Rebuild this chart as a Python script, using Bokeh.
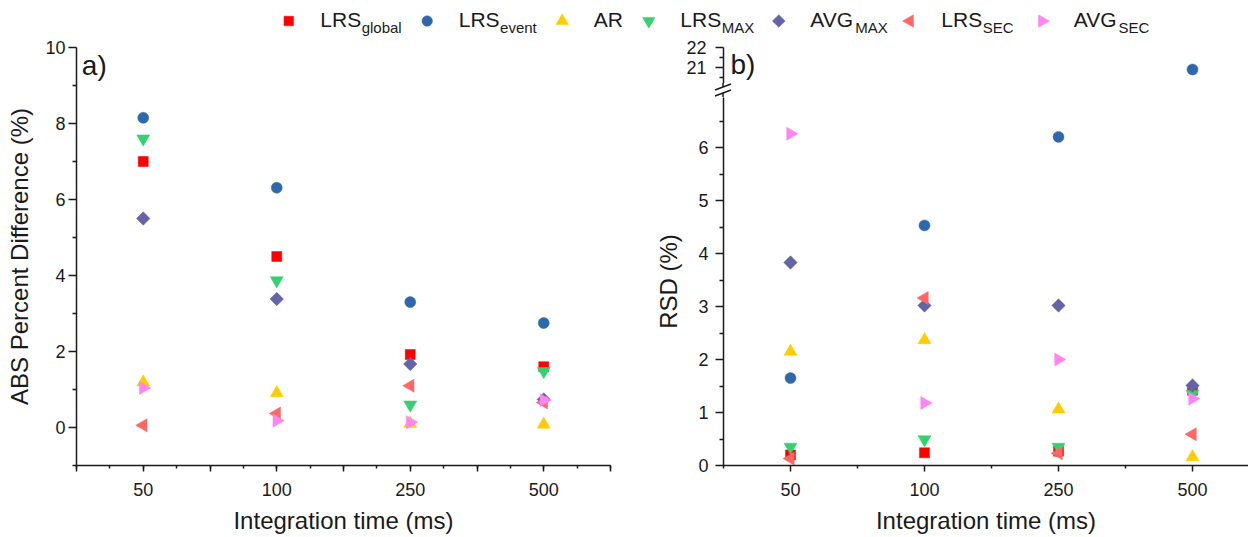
import numpy as np
from bokeh.plotting import figure
from bokeh.layouts import row, column
from bokeh.models import Range1d, FixedTicker, Label, Div
from bokeh.embed import file_html
from bokeh.resources import INLINE
from bokeh.core.properties import value

# ---------------- data ----------------
categories = ["50", "100", "250", "500"]

series_main = ["LRS", "LRS", "AR", "LRS", "AVG", "LRS", "AVG"]
series_sub = ["global", "event", "", "MAX", "MAX", "SEC", "SEC"]

abs_lrs_global = [7.00, 4.50, 1.92, 1.60]
abs_lrs_event = [8.15, 6.31, 3.30, 2.75]
abs_ar = [1.19, 0.91, 0.10, 0.08]
abs_lrs_max = [7.60, 3.87, 0.60, 1.48]
abs_avg_max = [5.50, 3.38, 1.67, 0.74]
abs_lrs_sec = [0.06, 0.37, 1.10, 0.66]
abs_avg_sec = [1.04, 0.18, 0.14, 0.72]

rsd_lrs_global = [0.20, 0.24, 0.27, 1.42]
rsd_lrs_event = [1.65, 4.53, 6.20, 20.9]
rsd_ar = [2.15, 2.37, 1.06, 0.16]
rsd_lrs_max = [0.35, 0.49, 0.35, 1.35]
rsd_avg_max = [3.83, 3.02, 3.02, 1.51]
rsd_lrs_sec = [0.13, 3.16, 0.23, 0.59]
rsd_avg_sec = [6.26, 1.18, 2.00, 1.26]

abs_series = [abs_lrs_global, abs_lrs_event, abs_ar, abs_lrs_max,
              abs_avg_max, abs_lrs_sec, abs_avg_sec]
rsd_series = [rsd_lrs_global, rsd_lrs_event, rsd_ar, rsd_lrs_max,
              rsd_avg_max, rsd_lrs_sec, rsd_avg_sec]

# ---------------- styles ----------------
FONT = "Liberation Sans"
INK = "#1a1a1a"
colors = ["#FF0000", "#2E68AA", "#FFCC00", "#36D16F", "#6464A6", "#FF6666", "#FF85F2"]
markers = ["square", "circle", "triangle", "inverted_triangle", "square", "triangle", "triangle"]
angles = [0, 0, 0, 0, np.pi / 4, np.pi / 2, -np.pi / 2]
sizes = [10, 11, 13, 13, 9.5, 13, 13]

idx = list(range(len(categories)))


def style(p):
    p.grid.grid_line_color = None
    p.outline_line_color = None
    p.background_fill_color = "white"
    p.border_fill_color = "white"
    for ax in p.axis:
        ax.axis_line_width = 1.5
        ax.axis_line_color = INK
        ax.major_tick_line_width = 1.5
        ax.minor_tick_line_width = 1.5
        ax.major_tick_line_color = INK
        ax.minor_tick_line_color = INK
        ax.major_tick_in = 0
        ax.minor_tick_in = 0
        ax.major_label_text_font = FONT
        ax.major_label_text_font_size = "18px"
        ax.major_label_text_color = INK
        ax.axis_label_text_font = FONT
        ax.axis_label_text_font_size = "24px"
        ax.axis_label_text_font_style = "normal"
        ax.axis_label_text_color = INK


def draw_series(p, data_list):
    for vals, col, mk, ang, sz in zip(data_list, colors, markers, angles, sizes):
        p.scatter(idx, vals, marker=mk, angle=ang, size=sz,
                  fill_color=col, line_color=col, line_width=0.5)


def style_yaxis(ax, standoff):
    ax.major_tick_out = 8
    ax.minor_tick_out = 4
    ax.major_label_standoff = standoff


def style_xaxis(ax):
    ax.major_tick_out = 6
    ax.minor_tick_out = 3
    ax.major_label_standoff = 11
    ax.axis_label_standoff = 8


TOTAL_W = 1248
LEFT_W = 650
RIGHT_W = TOTAL_W - LEFT_W

# ---------------- legend strip ----------------
LEG_H = 36
TOP_B = 47 - LEG_H
leg = figure(width=TOTAL_W, height=LEG_H, x_range=Range1d(0, TOTAL_W), y_range=Range1d(LEG_H, 0),
             min_border=0, x_axis_location=None, y_axis_location=None,
             toolbar_location=None, output_backend="svg")
style(leg)
leg_marker_x = [288.3, 426.7, 561.7, 648.3, 778.3, 909.3, 1041.7]
leg_text_gap = 31.5
arial_w = {"L": 0.556, "R": 0.722, "S": 0.667, "A": 0.667, "V": 0.667, "G": 0.778}
MAIN_FS, SUB_FS = 21, 15
for i in range(len(series_main)):
    mx = leg_marker_x[i]
    leg.scatter([mx], [20.5], marker=markers[i], angle=angles[i], size=sizes[i] - 0.5,
                fill_color=colors[i], line_color=colors[i], line_width=0.5)
    tx = mx + leg_text_gap
    leg.text([tx], [19.3], text=[series_main[i]], text_font=value(FONT),
             text_font_size=f"{MAIN_FS}px", text_color=INK, text_baseline="middle",
             text_align="left")
    if series_sub[i]:
        w = sum(arial_w[c] for c in series_main[i]) * MAIN_FS
        leg.text([tx + w + 0.5], [27.3], text=[series_sub[i]], text_font=value(FONT),
                 text_font_size=f"{SUB_FS}px", text_color=INK, text_baseline="middle",
                 text_align="left")

# ---------------- left panel (ABS percent difference) ----------------
p1 = figure(width=LEFT_W, height=536 - LEG_H, x_range=Range1d(-0.5, 3.5), y_range=Range1d(-1, 10),
            min_border_left=76, min_border_right=40, min_border_top=TOP_B, min_border_bottom=71,
            toolbar_location=None, output_backend="svg")
style(p1)
draw_series(p1, abs_series)
half_ticks = [i / 2 for i in range(-1, 2 * len(categories))]
quarter_ticks = [i / 4 for i in range(-2, 4 * len(categories) - 1)]
p1.xaxis.ticker = FixedTicker(ticks=half_ticks, minor_ticks=quarter_ticks)
p1.xaxis.major_label_overrides = {t: (categories[int(t)] if float(t).is_integer() and t >= 0 else "")
                                  for t in half_ticks}
p1.xaxis.axis_label = "Integration time (ms)"
style_xaxis(p1.xaxis[0])
p1.yaxis.ticker = FixedTicker(ticks=[0, 2, 4, 6, 8, 10], minor_ticks=[-1, 1, 3, 5, 7, 9])
p1.yaxis.axis_label = "ABS Percent Difference (%)"
style_yaxis(p1.yaxis[0], 3)
p1.yaxis.axis_label_standoff = 9
p1.add_layout(Label(x=-0.46, y=9.53, text="a)", text_font=FONT, text_font_size="28px",
                    text_color=INK, text_baseline="middle", text_align="left"))

# ---------------- right panel (RSD) with axis break ----------------
R_BORDER = 73
R_FRAME = RIGHT_W - R_BORDER
RX = Range1d(-0.5, -0.5 + R_FRAME / 134)

p_top = figure(width=RIGHT_W, height=TOP_B + 36, x_range=RX, y_range=Range1d(20.2, 22.0),
               min_border_left=R_BORDER, min_border_right=0, min_border_top=TOP_B, min_border_bottom=0,
               x_axis_location=None, toolbar_location=None, output_backend="svg")
style(p_top)
draw_series(p_top, rsd_series)
p_top.yaxis.ticker = FixedTicker(ticks=[21, 22], minor_ticks=[20.5, 21.5])
style_yaxis(p_top.yaxis[0], 9)
p_top.add_layout(Label(x=-0.448, y=21.17, text="b)", text_font=FONT, text_font_size="28px",
                       text_color=INK, text_baseline="middle", text_align="left"))

# axis-break marks (decoration between the two segments)
ax_x = R_BORDER
brk_svg = (
    f'<svg xmlns="http://www.w3.org/2000/svg" width="{RIGHT_W}" height="14" style="display:block">'
    f'<g stroke="{INK}" stroke-width="1.5" fill="none">'
    f'<line x1="{ax_x}" y1="0" x2="{ax_x}" y2="4"/>'
    f'<line x1="{ax_x}" y1="10" x2="{ax_x}" y2="14"/>'
    f'<line x1="{ax_x - 8}" y1="7" x2="{ax_x + 8}" y2="1"/>'
    f'<line x1="{ax_x - 8}" y1="13" x2="{ax_x + 8}" y2="7"/>'
    '</g></svg>'
)
p_brk = Div(text=brk_svg, width=RIGHT_W, height=14, margin=(0, 0, 0, 0),
            styles={"padding": "0", "margin": "0", "line-height": "0"})

p_bot = figure(width=RIGHT_W, height=439, x_range=RX, y_range=Range1d(0, 368 / 53),
               min_border_left=R_BORDER, min_border_right=0, min_border_top=0, min_border_bottom=71,
               toolbar_location=None, output_backend="svg")
style(p_bot)
draw_series(p_bot, rsd_series)
p_bot.xaxis.ticker = FixedTicker(ticks=idx, minor_ticks=[-0.5, 0.5, 1.5, 2.5])
p_bot.xaxis.major_label_overrides = {i: c for i, c in zip(idx, categories)}
p_bot.xaxis.axis_label = "Integration time (ms)"
style_xaxis(p_bot.xaxis[0])
p_bot.yaxis.ticker = FixedTicker(ticks=[0, 1, 2, 3, 4, 5, 6],
                                 minor_ticks=[0.5, 1.5, 2.5, 3.5, 4.5, 5.5, 6.5])
p_bot.yaxis.axis_label = "RSD (%)"
style_yaxis(p_bot.yaxis[0], 7)
p_bot.yaxis.axis_label_standoff = 13

layout = column(leg, row(p1, column(p_top, p_brk, p_bot, spacing=0), spacing=0), spacing=0)

with open("out.html", "w") as f:
    f.write(file_html(layout, INLINE))
